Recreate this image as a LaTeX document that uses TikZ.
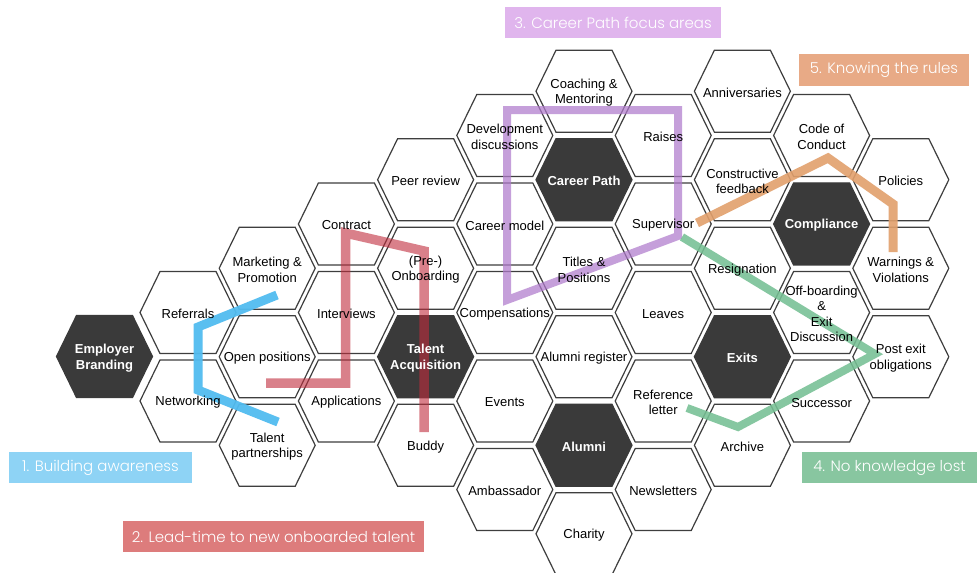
\documentclass[tikz,border=0pt]{standalone}
\usepackage{fontspec}
\setmainfont{Liberation Sans}
\newfontfamily\tagfont{Poppins Light}

\definecolor{hexline}{RGB}{62,62,62}
\definecolor{hexdark}{RGB}{58,58,58}
\definecolor{tagblue}{RGB}{142,211,245}
\definecolor{tagred}{RGB}{221,124,124}
\definecolor{tagpurple}{RGB}{224,181,237}
\definecolor{taggreen}{RGB}{136,198,160}
\definecolor{tagorange}{RGB}{232,170,134}
\definecolor{routeblue}{RGB}{82,188,240}
\definecolor{routered}{RGB}{192,44,60}
\definecolor{routepurple}{RGB}{176,122,204}
\definecolor{routegreen}{RGB}{118,192,148}
\definecolor{routeorange}{RGB}{226,160,108}

\pgfdeclarelayer{labels}
\pgfsetlayers{main,labels}

\tikzset{
  hexcell/.style={draw=hexline, line width=1.2pt, fill=white, line join=miter},
  hexcore/.style={draw=hexdark, fill=hexdark, line width=1.2pt, line join=miter},
  celltext/.style={align=center, inner sep=0pt, text=black, yshift=-1.5pt,
    font=\fontsize{13}{15.5}\selectfont},
  coretext/.style={align=center, inner sep=0pt, text=white, yshift=-1.5pt,
    font=\fontsize{13}{15.5}\selectfont\bfseries},
  tagbox/.style={inner sep=0pt, text=white, font=\tagfont\fontsize{15}{18}\selectfont,
    minimum height=31pt},
  route/.style={line cap=butt, line join=miter, line width=9pt},
}

% one hexagon with its label (label kept above the routes); #4 is the centre
\newcommand\hexat[5]{%
  \draw[#1] (#4) ++(-48,0) -- ++(20,-41) -- ++(56,0) -- ++(20,41)
    -- ++(-20,41) -- ++(-56,0) -- cycle;
  \begin{pgfonlayer}{labels}
    \node[#2] (#3) at (#4) {#5};
  \end{pgfonlayer}
}
% grid cells: column #2, half-row #3
\newcommand\cell[4]{\hexat{hexcell}{celltext}{#1}{{188+79.2*(#2-1)},{91.2+44.26*#3}}{#4}}
\newcommand\core[4]{\hexat{hexcore}{coretext}{#1}{{188+79.2*(#2-1)},{91.2+44.26*#3}}{#4}}

\begin{document}
\begin{tikzpicture}[x=1pt, y=-1pt]
\useasboundingbox (0,0) rectangle (980,573);

% ---- honeycomb ----
\hexat{hexcore}{coretext}{employer}{104.5,356.5}{Employer\\Branding}

\cell{referrals}{1}{5}{Referrals}
\cell{networking}{1}{7}{Networking}

\cell{marketing}{2}{4}{Marketing \&\\Promotion}
\cell{openpos}{2}{6}{Open positions}
\cell{partnerships}{2}{8}{Talent\\partnerships}

\cell{contract}{3}{3}{Contract}
\cell{interviews}{3}{5}{Interviews}
\cell{applications}{3}{7}{Applications}

\cell{peer}{4}{2}{Peer review}
\cell{onboarding}{4}{4}{(Pre-)\\Onboarding}
\core{acquisition}{4}{6}{Talent\\Acquisition}
\cell{buddy}{4}{8}{Buddy}

\cell{devdisc}{5}{1}{Development\\discussions}
\cell{careermodel}{5}{3}{Career model}
\cell{compensations}{5}{5}{Compensations}
\cell{events}{5}{7}{Events}
\cell{ambassador}{5}{9}{Ambassador}

\cell{coaching}{6}{0}{Coaching \&\\Mentoring}
\core{careerpath}{6}{2}{Career Path}
\cell{titles}{6}{4}{Titles \&\\Positions}
\cell{alumnireg}{6}{6}{Alumni register}
\core{alumni}{6}{8}{Alumni}
\cell{charity}{6}{10}{Charity}

\cell{raises}{7}{1}{Raises}
\cell{supervisor}{7}{3}{Supervisor}
\cell{leaves}{7}{5}{Leaves}
\cell{reference}{7}{7}{Reference\\letter}
\cell{newsletters}{7}{9}{Newsletters}

\cell{anniversaries}{8}{0}{Anniversaries}
\cell{feedback}{8}{2}{Constructive\\feedback}
\cell{resignation}{8}{4}{Resignation}
\core{exits}{8}{6}{Exits}
\cell{archive}{8}{8}{Archive}

\cell{conduct}{9}{1}{Code of\\Conduct}
\core{compliance}{9}{3}{Compliance}
\cell{offboarding}{9}{5}{Off-boarding\\\&\\Exit\\Discussion}
\cell{successor}{9}{7}{Successor}

\cell{policies}{10}{2}{Policies}
\cell{warnings}{10}{4}{Warnings \&\\Violations}
\cell{postexit}{10}{6}{Post exit\\obligations}

% ---- route bends ----
\coordinate (b1) at (277,295);
\coordinate (b2) at (198,327);
\coordinate (b3) at (198,390);
\coordinate (b4) at (278,422);

\coordinate (r1) at (266,383);
\coordinate (r2) at (345.5,383);
\coordinate (r3) at (345.5,233);
\coordinate (r4) at (424,251);
\coordinate (r5) at (424,432);

\coordinate (p1) at (507,110);
\coordinate (p2) at (678,110);
\coordinate (p3) at (678,236);
\coordinate (p4) at (507,300);

\coordinate (g1) at (682,237);
\coordinate (g2) at (875,354);
\coordinate (g3) at (738,427);
\coordinate (g4) at (687,408);

\coordinate (o1) at (697,223);
\coordinate (o2) at (828,158);
\coordinate (o3) at (893,204);
\coordinate (o4) at (893,252);

% ---- routes ----
\draw[route, routeblue, opacity=0.95] (b1) -- (b2) -- (b3) -- (b4);
\draw[route, routered, opacity=0.6, line width=9.5pt] (r1) -- (r2) -- (r3) -- (r4) -- (r5);
\draw[route, routepurple, opacity=0.72, line width=8pt] (p1) -- (p2) -- (p3) -- (p4) -- cycle;
\draw[route, routegreen, opacity=0.88, line width=8pt] (g1) -- (g2) -- (g3) -- (g4);
\draw[route, routeorange, opacity=0.9] (o1) -- (o2) -- (o3) -- (o4);

% ---- captions ----
\node[tagbox, fill=tagblue, minimum width=183pt] (tag1) at (100.5,467.5) {1. Building awareness};
\node[tagbox, fill=tagred, minimum width=301pt] (tag2) at (273.5,536.5) {2. Lead-time to new onboarded talent};
\node[tagbox, fill=tagpurple, minimum width=216pt] (tag3) at (613,22.5) {3. Career Path focus areas};
\node[tagbox, fill=taggreen, minimum width=175pt] (tag4) at (889.5,467.5) {4. No knowledge lost};
\node[tagbox, fill=tagorange, minimum width=170pt, minimum height=32pt] (tag5) at (884,70) {5. Knowing the rules};
\end{tikzpicture}
\end{document}
